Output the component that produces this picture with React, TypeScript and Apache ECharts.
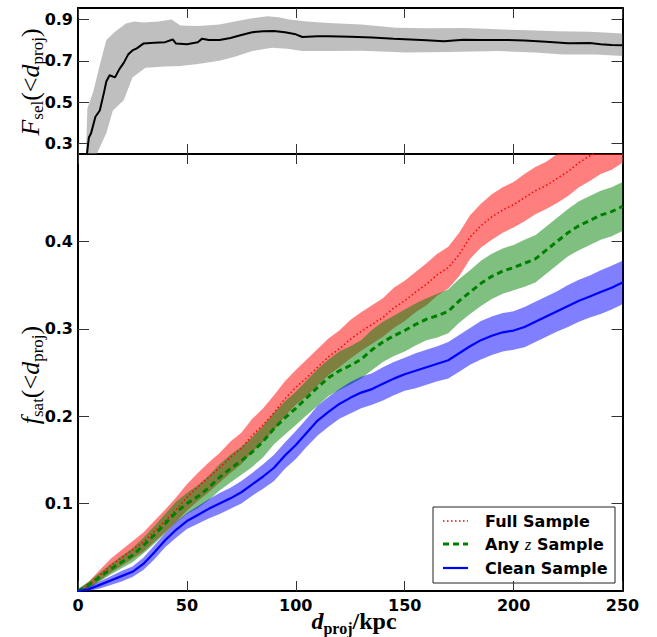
import React, { useEffect, useRef } from "react";
import * as echarts from "echarts";

// ---------- data ----------
const dX = [0, 5, 10, 15, 20, 25, 30, 35, 40, 45, 50, 55, 60, 65, 70, 75, 80, 85, 90, 95, 100, 105, 110, 115, 120, 125, 130, 135, 140, 145, 150, 155, 160, 165, 170, 175, 180, 185, 190, 195, 200, 205, 210, 215, 220, 225, 230, 235, 240, 245, 250];

const fullMid = [0, 0.007, 0.018, 0.029, 0.038, 0.047, 0.056, 0.068, 0.08, 0.093, 0.107, 0.119, 0.13, 0.141, 0.153, 0.163, 0.178, 0.19, 0.204, 0.22, 0.233, 0.244, 0.256, 0.268, 0.277, 0.288, 0.297, 0.305, 0.313, 0.324, 0.332, 0.342, 0.351, 0.362, 0.37, 0.385, 0.405, 0.418, 0.428, 0.436, 0.442, 0.45, 0.458, 0.464, 0.472, 0.48, 0.49, 0.498, 0.506, 0.512, 0.52];
const fullErr = [0.002, 0.004, 0.006, 0.008, 0.009, 0.01, 0.011, 0.012, 0.013, 0.014, 0.015, 0.016, 0.017, 0.017, 0.018, 0.018, 0.019, 0.019, 0.02, 0.02, 0.02, 0.021, 0.021, 0.021, 0.021, 0.022, 0.022, 0.022, 0.022, 0.023, 0.023, 0.023, 0.024, 0.024, 0.024, 0.025, 0.025, 0.025, 0.026, 0.026, 0.026, 0.027, 0.027, 0.027, 0.028, 0.028, 0.028, 0.029, 0.029, 0.03, 0.03];

const anyzMid = [0, 0.007, 0.016, 0.025, 0.033, 0.041, 0.052, 0.064, 0.077, 0.09, 0.1, 0.108, 0.118, 0.13, 0.14, 0.149, 0.159, 0.171, 0.186, 0.198, 0.209, 0.221, 0.233, 0.244, 0.252, 0.258, 0.265, 0.276, 0.285, 0.292, 0.298, 0.305, 0.311, 0.315, 0.32, 0.332, 0.342, 0.352, 0.36, 0.366, 0.37, 0.375, 0.38, 0.39, 0.4, 0.41, 0.418, 0.424, 0.43, 0.434, 0.44];
const anyzErr = [0.002, 0.004, 0.005, 0.006, 0.007, 0.008, 0.009, 0.01, 0.011, 0.012, 0.012, 0.013, 0.014, 0.015, 0.016, 0.016, 0.017, 0.018, 0.018, 0.019, 0.019, 0.02, 0.021, 0.021, 0.022, 0.022, 0.022, 0.023, 0.023, 0.023, 0.024, 0.024, 0.024, 0.025, 0.025, 0.025, 0.025, 0.026, 0.026, 0.026, 0.026, 0.027, 0.027, 0.027, 0.027, 0.027, 0.028, 0.028, 0.028, 0.028, 0.028];

const cleanMid = [0, 0.002, 0.007, 0.012, 0.017, 0.022, 0.031, 0.044, 0.058, 0.07, 0.08, 0.087, 0.094, 0.1, 0.106, 0.113, 0.122, 0.131, 0.141, 0.155, 0.167, 0.181, 0.195, 0.205, 0.214, 0.221, 0.227, 0.231, 0.237, 0.243, 0.248, 0.252, 0.256, 0.26, 0.264, 0.272, 0.28, 0.287, 0.292, 0.296, 0.298, 0.302, 0.308, 0.314, 0.32, 0.326, 0.332, 0.337, 0.342, 0.347, 0.353];
const cleanErr = [0.001, 0.003, 0.004, 0.005, 0.006, 0.006, 0.007, 0.008, 0.008, 0.009, 0.009, 0.01, 0.011, 0.012, 0.012, 0.013, 0.013, 0.014, 0.015, 0.015, 0.016, 0.016, 0.017, 0.017, 0.017, 0.018, 0.018, 0.018, 0.019, 0.019, 0.019, 0.02, 0.02, 0.02, 0.021, 0.021, 0.021, 0.022, 0.022, 0.022, 0.022, 0.023, 0.023, 0.023, 0.023, 0.024, 0.024, 0.024, 0.025, 0.025, 0.025];

const selX = [4, 5, 6, 8, 10, 12, 13, 14.5, 17, 19, 21, 23, 25, 27, 30, 35, 40, 43.5, 45, 50, 55, 57, 60, 65, 70, 75, 80, 85, 90, 95, 100, 103, 110, 115, 125, 135, 145, 150, 160, 168, 177, 185, 195, 205, 215, 225, 235, 240, 245, 250];
const selMid = [0.24, 0.33, 0.35, 0.43, 0.46, 0.55, 0.6, 0.63, 0.62, 0.66, 0.69, 0.73, 0.75, 0.76, 0.783, 0.787, 0.79, 0.803, 0.783, 0.78, 0.79, 0.807, 0.8, 0.8, 0.81, 0.825, 0.838, 0.843, 0.844, 0.838, 0.828, 0.815, 0.818, 0.818, 0.816, 0.812, 0.806, 0.804, 0.799, 0.794, 0.802, 0.8, 0.801, 0.798, 0.792, 0.785, 0.786, 0.78, 0.776, 0.775];
const selHiX = [3.7, 4.3, 7, 10, 13, 17, 22, 26, 30, 37, 43, 47, 55, 65, 72, 80, 87, 92, 97, 105, 115, 130, 146, 160, 177, 190, 207, 220, 235, 250];
const selHi = [0.25, 0.47, 0.55, 0.68, 0.8, 0.84, 0.88, 0.89, 0.885, 0.89, 0.9, 0.87, 0.868, 0.875, 0.89, 0.905, 0.915, 0.91, 0.9, 0.89, 0.883, 0.875, 0.86, 0.857, 0.858, 0.853, 0.847, 0.843, 0.84, 0.832];
const selLoX = [3.7, 8.6, 13, 16, 21, 25, 31, 40, 47, 55, 65, 72, 80, 89, 96, 103, 115, 130, 151, 170, 193, 210, 223, 238, 250];
const selLo = [0.1, 0.25, 0.35, 0.46, 0.51, 0.62, 0.667, 0.672, 0.675, 0.685, 0.7, 0.72, 0.747, 0.763, 0.758, 0.747, 0.747, 0.748, 0.74, 0.742, 0.747, 0.74, 0.731, 0.731, 0.723];

const selTicks = [0.3, 0.5, 0.7, 0.9];
const satTicks = [0.1, 0.2, 0.3, 0.4];
const legendNames = ["Full Sample", "Any z Sample", "Clean Sample"];

// ---------- helpers ----------
const TICK_FONT = { fontFamily: "DejaVu Sans", fontWeight: "bold" as const, fontSize: 16, color: "#000" };

function band(
  xi: number, yi: number,
  hx: number[], hy: number[], lx: number[], ly: number[],
  color: string, yMin: number, yMax: number, z: number
) {
  const cl = (v: number) => Math.max(yMin, Math.min(yMax, v));
  return {
    type: "custom",
    xAxisIndex: xi,
    yAxisIndex: yi,
    silent: true,
    clip: true,
    z,
    data: [[hx[0], cl(hy[0])]],
    renderItem: (_p: any, api: any) => {
      const pts: number[][] = [];
      for (let i = 0; i < hx.length; i++) pts.push(api.coord([hx[i], cl(hy[i])]));
      for (let i = lx.length - 1; i >= 0; i--) pts.push(api.coord([lx[i], cl(ly[i])]));
      return { type: "polygon", shape: { points: pts }, style: { fill: color, stroke: "none" } };
    },
  };
}

const zip = (xs: number[], ys: number[]) => xs.map((x, i) => [x, ys[i]]);

function xAxisDef(grid: number, pos: "top" | "bottom", labels: boolean) {
  return {
    type: "value",
    gridIndex: grid,
    position: pos,
    min: 0,
    max: 250,
    interval: 50,
    splitLine: { show: false },
    axisLine: { show: true, onZero: false, lineStyle: { color: "#000", width: 2 } },
    axisTick: { show: true, inside: true, length: 10, lineStyle: { color: "#333", width: 1 } },
    axisLabel: { show: labels, margin: 6, ...TICK_FONT },
  };
}

function yAxisDef(grid: number, pos: "left" | "right", min: number, max: number, ticks: number[], labels: boolean) {
  return {
    type: "value",
    gridIndex: grid,
    position: pos,
    min,
    max,
    splitLine: { show: false },
    axisLine: { show: true, onZero: false, lineStyle: { color: "#000", width: 2 } },
    axisTick: { show: true, inside: true, length: 11, customValues: ticks, lineStyle: { color: "#333", width: 1 } },
    axisLabel: { show: labels, margin: 5, customValues: ticks, formatter: (v: number) => v.toFixed(1), ...TICK_FONT },
  };
}

export default function App() {
  const ref = useRef<HTMLDivElement>(null);
  useEffect(() => {
    if (!ref.current) return;
    const chart = echarts.init(ref.current, null, { renderer: "svg" });
    const fullLo = fullMid.map((v, i) => v - fullErr[i]);
    const fullHi = fullMid.map((v, i) => v + fullErr[i]);
    const anyLo = anyzMid.map((v, i) => v - anyzErr[i]);
    const anyHi = anyzMid.map((v, i) => v + anyzErr[i]);
    const clLo = cleanMid.map((v, i) => v - cleanErr[i]);
    const clHi = cleanMid.map((v, i) => v + cleanErr[i]);

    const serifRich = {
      i: { fontFamily: "Liberation Serif", fontStyle: "italic", fontSize: 26, lineHeight: 32, verticalAlign: "middle", color: "#000" },
      n: { fontFamily: "Liberation Serif", fontSize: 26, lineHeight: 32, verticalAlign: "middle", color: "#000" },
      s: { fontFamily: "Liberation Serif", fontSize: 17, lineHeight: 14, verticalAlign: "bottom", color: "#000" },
    };
    const xRich = {
      i: { fontFamily: "Liberation Serif", fontStyle: "italic", fontWeight: "bold", fontSize: 24, lineHeight: 30, verticalAlign: "middle", color: "#000" },
      n: { fontFamily: "Liberation Serif", fontWeight: "bold", fontSize: 24, lineHeight: 30, verticalAlign: "middle", color: "#000" },
      s: { fontFamily: "Liberation Serif", fontWeight: "bold", fontSize: 16, lineHeight: 14, verticalAlign: "bottom", color: "#000" },
    };
    const legText = { fontFamily: "DejaVu Sans", fontWeight: "bold", fontSize: 16, fill: "#000" };

    chart.setOption({
      animation: false,
      backgroundColor: "#fff",
      grid: [
        { left: 78, top: 8, width: 544.5, height: 146 },
        { left: 78, top: 154, width: 544.5, height: 437 },
      ],
      xAxis: [
        xAxisDef(0, "bottom", false),
        xAxisDef(0, "top", false),
        xAxisDef(1, "bottom", true),
        xAxisDef(1, "top", false),
      ],
      yAxis: [
        yAxisDef(0, "left", 0.25, 0.955, selTicks, true),
        yAxisDef(0, "right", 0.25, 0.955, selTicks, false),
        yAxisDef(1, "left", 0, 0.5, satTicks, true),
        yAxisDef(1, "right", 0, 0.5, satTicks, false),
      ],
      series: [
        band(0, 0, selHiX, selHi, selLoX, selLo, "rgba(128,128,128,0.5)", 0.25, 0.955, 1),
        {
          type: "line", xAxisIndex: 0, yAxisIndex: 0, data: zip(selX, selMid), showSymbol: false, symbol: "none",
          lineStyle: { color: "#000", width: 2 }, z: 5, clip: true,
        },
        band(2, 2, dX, fullHi, dX, fullLo, "rgba(255,0,0,0.5)", 0, 0.5, 1),
        band(2, 2, dX, anyHi, dX, anyLo, "rgba(0,128,0,0.5)", 0, 0.5, 2),
        band(2, 2, dX, clHi, dX, clLo, "rgba(0,0,255,0.5)", 0, 0.5, 3),
        {
          name: legendNames[0], type: "line", xAxisIndex: 2, yAxisIndex: 2, data: zip(dX, fullMid), symbol: "none",
          lineStyle: { color: "#ff0000", width: 1.5, type: [1.5, 2.5] }, z: 5, clip: true,
        },
        {
          name: legendNames[1], type: "line", xAxisIndex: 2, yAxisIndex: 2, data: zip(dX, anyzMid), symbol: "none",
          lineStyle: { color: "#008000", width: 3, type: [6, 4] }, z: 5, clip: true,
        },
        {
          name: legendNames[2], type: "line", xAxisIndex: 2, yAxisIndex: 2, data: zip(dX, cleanMid), symbol: "none",
          lineStyle: { color: "#0000ff", width: 2.2 }, z: 5, clip: true,
        },
      ],
      graphic: [
        {
          type: "text", x: 30, y: 82, rotation: Math.PI / 2, z: 100,
          style: { text: "{i|F}{s|sel}{n|(<}{i|d}{s|proj}{n|)}", rich: serifRich, align: "center", verticalAlign: "middle" },
        },
        {
          type: "text", x: 30, y: 375, rotation: Math.PI / 2, z: 100,
          style: { text: "{i|f}{s|sat}{n|(<}{i|d}{s|proj}{n|)}", rich: serifRich, align: "center", verticalAlign: "middle" },
        },
        {
          type: "text", x: 354, y: 621, z: 100,
          style: { text: "{i|d}{s|proj}{n|/kpc}", rich: xRich, align: "center", verticalAlign: "middle" },
        },
        {
          type: "group", z: 100,
          children: [
            { type: "rect", shape: { x: 433, y: 507, width: 182, height: 76 }, style: { fill: "#fff", stroke: "#222", lineWidth: 1 } },
            { type: "line", shape: { x1: 443, y1: 521, x2: 468, y2: 521 }, style: { stroke: "#ff0000", lineWidth: 1.5, lineDash: [1.5, 2.5] } },
            { type: "line", shape: { x1: 443, y1: 544, x2: 468, y2: 544 }, style: { stroke: "#008000", lineWidth: 3, lineDash: [6, 4] } },
            { type: "line", shape: { x1: 443, y1: 568, x2: 468, y2: 568 }, style: { stroke: "#0000ff", lineWidth: 2.2 } },
            { type: "text", x: 485, y: 521, style: { text: legendNames[0], ...legText, verticalAlign: "middle" } },
            {
              type: "text", x: 485, y: 544,
              style: {
                text: "{b|Any }{z|z}{b| Sample}", verticalAlign: "middle",
                rich: {
                  b: { fontFamily: "DejaVu Sans", fontWeight: "bold", fontSize: 16, color: "#000" },
                  z: { fontFamily: "Liberation Serif", fontStyle: "italic", fontSize: 17, color: "#000" },
                },
              },
            },
            { type: "text", x: 485, y: 568, style: { text: legendNames[2], ...legText, verticalAlign: "middle" } },
          ],
        },
      ],
    });
    return () => chart.dispose();
  }, []);
  return <div ref={ref} style={{ position: "fixed", left: 0, top: 0, width: 657, height: 637 }} />;
}
